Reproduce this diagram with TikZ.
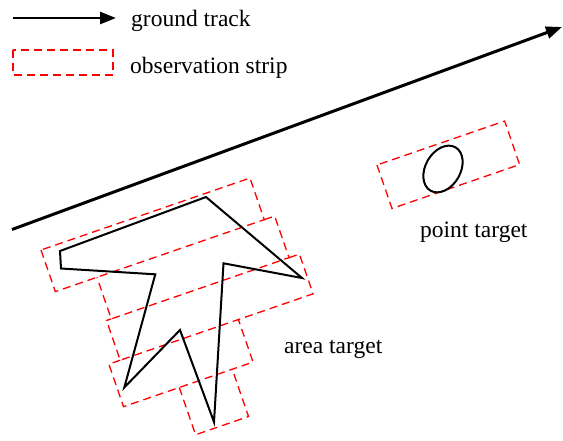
\documentclass[tikz,border=0pt]{standalone}
\usepackage{fontspec}
\setmainfont{Liberation Serif}
\usetikzlibrary{arrows.meta, positioning}

\begin{document}
\begin{tikzpicture}[x=1pt, y=-1pt, >={Triangle[length=16pt, width=12pt]},
    strip/.style={draw=red, line width=1.3pt, dash pattern=on 8pt off 5pt},
    target/.style={draw=black, line width=2pt},
    label/.style={anchor=base west, inner sep=0pt, font=\fontsize{23.5}{28}\selectfont}]
    \def\tilt{19}
    \useasboundingbox (0,0) rectangle (563,440);
    % legend
    \coordinate (key start) at (13,18);
    \coordinate (key end) at (116,18);
    \draw[->, line width=2.7pt] (key start) -- (key end);
    \node[label] (track label) at (131,26) {ground track};
    \draw[strip] (13,50) rectangle (113,75);
    \node[label] (strip label) at (130,73.5) {observation strip};
    % ground track
    \coordinate (track start) at (12,229.5);
    \coordinate (track end) at (562,27);
    \draw[->, line width=3pt] (track start) -- (track end);
    % strips over the area target, stacked across the track
    \begin{scope}[shift={(41,250)}, rotate=\tilt]
        \draw[strip] (0,0) rectangle (221,44);
        \draw[strip] (221,44) -- (232,44) -- (232,88) -- (44,88) -- (44,44);
        \draw[strip] (232,88) -- (243,88) -- (243,130) -- (39,130) -- (39,88) -- (44,88);
        \draw[strip] (39,130) -- (27,130) -- (27,175) -- (164,175) -- (164,130);
        \draw[strip] (86,175) -- (86,225) -- (142,225) -- (142,175);
    \end{scope}
    % area target
    \draw[target] (60,251) -- (206,197) -- (302,278) -- (223.5,263.3)
        -- (214,422) -- (180,330) -- (124.3,387.5) -- (155.3,274.3)
        -- (61,268.5) -- cycle;
    \node[label] (area label) at (284,353) {area target};
    % point target and its strip
    \begin{scope}[shift={(377,165)}, rotate=\tilt]
        \draw[strip] (0,0) rectangle (135,46);
    \end{scope}
    \draw[target, rotate around={-30:(443,169)}] (443,169) ellipse [x radius=17.5, y radius=25];
    \node[label] (point label) at (420,237) {point target};
\end{tikzpicture}
\end{document}
